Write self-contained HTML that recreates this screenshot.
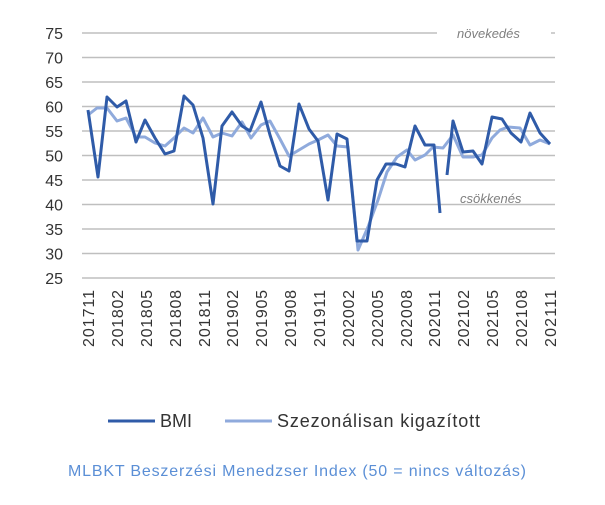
<!DOCTYPE html>
<html><head><meta charset="utf-8"><style>
body{margin:0;background:#fff;width:605px;height:500px;overflow:hidden}
svg{font-family:"Liberation Sans",sans-serif}
</style></head><body>
<svg width="605" height="500" viewBox="0 0 605 500">
<g stroke="#bfbfbf" stroke-width="1.5">
<line x1="82" x2="437" y1="33" y2="33"/><line x1="551" x2="555" y1="33" y2="33"/>
<line x1="82" x2="555" y1="57.5" y2="57.5"/>
<line x1="82" x2="555" y1="82" y2="82"/>
<line x1="82" x2="555" y1="106.5" y2="106.5"/>
<line x1="82" x2="555" y1="131" y2="131"/>
<line x1="82" x2="555" y1="155.5" y2="155.5"/>
<line x1="82" x2="555" y1="180" y2="180"/>
<line x1="82" x2="555" y1="204.5" y2="204.5"/>
<line x1="82" x2="555" y1="229" y2="229"/>
<line x1="82" x2="555" y1="253.5" y2="253.5"/>
<line x1="82" x2="555" y1="278" y2="278"/>
</g>
<g font-size="16" fill="#333" text-anchor="end">
<text x="63" y="39">75</text><text x="63" y="63.5">70</text><text x="63" y="88">65</text><text x="63" y="112.5">60</text><text x="63" y="137">55</text><text x="63" y="161.5">50</text><text x="63" y="186">45</text><text x="63" y="210.5">40</text><text x="63" y="235">35</text><text x="63" y="259.5">30</text><text x="63" y="284">25</text>
</g>
<g font-size="16" fill="#333" text-anchor="end">
<text transform="translate(94,290) rotate(-90)" textLength="57">201711</text>
<text transform="translate(123,290) rotate(-90)" textLength="57">201802</text>
<text transform="translate(152,290) rotate(-90)" textLength="57">201805</text>
<text transform="translate(181,290) rotate(-90)" textLength="57">201808</text>
<text transform="translate(210,290) rotate(-90)" textLength="57">201811</text>
<text transform="translate(238,290) rotate(-90)" textLength="57">201902</text>
<text transform="translate(267,290) rotate(-90)" textLength="57">201905</text>
<text transform="translate(296,290) rotate(-90)" textLength="57">201908</text>
<text transform="translate(325,290) rotate(-90)" textLength="57">201911</text>
<text transform="translate(354,290) rotate(-90)" textLength="57">202002</text>
<text transform="translate(383,290) rotate(-90)" textLength="57">202005</text>
<text transform="translate(412,290) rotate(-90)" textLength="57">202008</text>
<text transform="translate(440,290) rotate(-90)" textLength="57">202011</text>
<text transform="translate(469,290) rotate(-90)" textLength="57">202102</text>
<text transform="translate(498,290) rotate(-90)" textLength="57">202105</text>
<text transform="translate(527,290) rotate(-90)" textLength="57">202108</text>
<text transform="translate(556,290) rotate(-90)" textLength="57">202111</text>
</g>
<g font-size="13" fill="#7f7f7f" font-style="italic">
<text x="457" y="38">növekedés</text>
<text x="460" y="203">csökkenés</text>
</g>
<g fill="none" stroke-linejoin="round" stroke-width="3">
<polyline stroke="#8faadc" points="88,115 97,108 107,108 117,121 126,118 136,137 145,137 155,143 165,146 174,138 184,128 193,133 203,118 213,137 222,133 232,136 242,122 251,138 261,125 270,121 280,139 289,156 299,150 309,144 318,140 328,135 337,146 348,147 358,250 368,227 378,200 387,172 397,157 407,150 415,160 425,155 433,147 443,148 453,135 463,157 473,157 482,155 492,138 500,130 508,127 520,128 530,145 540,140 550,144"/>
<polyline stroke="#2f5ba8" points="88,110 98,177 107,97 117,107 126,101 136,142 145,120 155,138 165,154 174,151 184,96 193,105 203,138 213,204 222,126 232,112 242,126 250,131 261,102 270,135 280,166 289,171 299,104 309,129 318,141 328,200 337,134 347,139 357,241 367,241 377,180 386,164 396,164 405,167 415,126 425,145 434,145 440,213"/>
<polyline stroke="#2f5ba8" points="447,175 453,121 463,152 473,151 482,164 492,117 502,119 511,133 521,142 530,113 540,133 550,144"/>
</g>
<line x1="108" x2="155" y1="421" y2="421" stroke="#2f5ba8" stroke-width="3"/>
<text x="160" y="427" font-size="18" fill="#333" textLength="32">BMI</text>
<line x1="225" x2="272" y1="421" y2="421" stroke="#8faadc" stroke-width="3"/>
<text x="277" y="427" font-size="18" fill="#333" textLength="203">Szezonálisan kigazított</text>
<text x="68" y="476" font-size="16" fill="#5b8fd6" textLength="458">MLBKT Beszerzési Menedzser Index (50 = nincs változás)</text>
</svg>
</body></html>
